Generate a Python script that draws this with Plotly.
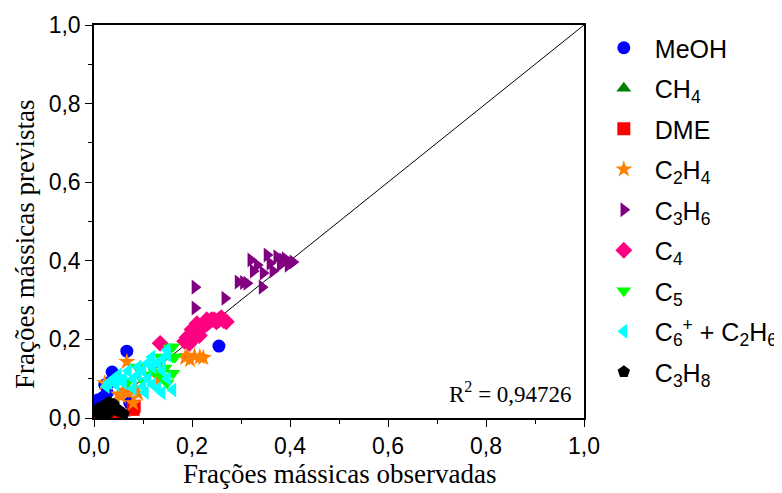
import plotly.graph_objects as go

tick_vals = [0.0, 0.2, 0.4, 0.6, 0.8, 1.0]
tick_text = ["0,0", "0,2", "0,4", "0,6", "0,8", "1,0"]

meoh_x = [0.255, 0.067, 0.037, 0.022, 0.027, 0.008, 0.002, 0.073, 0.012, 0.018, 0.03, 0.005]
meoh_y = [0.183, 0.170, 0.117, 0.084, 0.064, 0.046, 0.033, 0.038, 0.025, 0.052, 0.09, 0.015]

ch4_x = [0.01, 0.03, 0.05, 0.04, 0.02, 0.06]
ch4_y = [0.02, 0.025, 0.02, 0.03, 0.015, 0.012]

dme_x = [0.08, 0.082, 0.005, 0.01, 0.02, 0.045, 0.0, 0.04]
dme_y = [0.022, 0.03, 0.005, 0.012, 0.015, 0.008, 0.002, 0.004]

c2h4_x = [0.186, 0.196, 0.205, 0.216, 0.223, 0.19, 0.067, 0.131, 0.08, 0.022, 0.05, 0.06, 0.07, 0.08, 0.09, 0.055, 0.135, 0.085]
c2h4_y = [0.153, 0.148, 0.157, 0.155, 0.153, 0.158, 0.143, 0.104, 0.038, 0.089, 0.06, 0.07, 0.065, 0.07, 0.062, 0.055, 0.10, 0.075]

c3h6_x = [0.206, 0.206, 0.267, 0.294, 0.305, 0.312, 0.343, 0.32, 0.333, 0.353, 0.359, 0.373, 0.385, 0.396, 0.406, 0.365, 0.345, 0.325, 0.38, 0.39, 0.40]
c3h6_y = [0.333, 0.280, 0.305, 0.346, 0.345, 0.343, 0.333, 0.402, 0.389, 0.415, 0.394, 0.410, 0.402, 0.389, 0.397, 0.374, 0.369, 0.374, 0.39, 0.405, 0.395]

c4_x = [0.185, 0.19, 0.195, 0.2, 0.205, 0.21, 0.215, 0.2, 0.22, 0.225, 0.23, 0.235, 0.24, 0.245, 0.25, 0.255, 0.26, 0.265, 0.27, 0.23, 0.215, 0.21, 0.195, 0.135]
c4_y = [0.195, 0.205, 0.21, 0.2, 0.215, 0.22, 0.225, 0.225, 0.23, 0.235, 0.24, 0.245, 0.25, 0.25, 0.245, 0.25, 0.255, 0.248, 0.245, 0.25, 0.21, 0.24, 0.19, 0.19]

c5_x = [0.161, 0.161, 0.135, 0.145, 0.161, 0.124, 0.069, 0.088, 0.149, 0.165, 0.155, 0.139, 0.11, 0.1]
c5_y = [0.181, 0.155, 0.155, 0.127, 0.114, 0.117, 0.092, 0.130, 0.089, 0.155, 0.178, 0.104, 0.11, 0.095]

c6_x = [0.03, 0.04, 0.05, 0.06, 0.07, 0.08, 0.09, 0.1, 0.11, 0.12, 0.13, 0.14, 0.15, 0.1, 0.12, 0.13, 0.161, 0.139, 0.15, 0.11, 0.118, 0.06, 0.045, 0.09, 0.14, 0.149, 0.08, 0.105, 0.025]
c6_y = [0.09, 0.1, 0.11, 0.1, 0.12, 0.1, 0.11, 0.12, 0.1, 0.13, 0.14, 0.15, 0.16, 0.08, 0.085, 0.075, 0.071, 0.064, 0.1, 0.14, 0.155, 0.09, 0.085, 0.13, 0.12, 0.173, 0.075, 0.065, 0.08]

c3h8_x = [0.01, 0.015, 0.02, 0.025, 0.03, 0.035, 0.04, 0.045, 0.05, 0.055, 0.02, 0.03, 0.04, 0.01, 0.06, 0.025]
c3h8_y = [0.01, 0.02, 0.03, 0.035, 0.04, 0.03, 0.02, 0.025, 0.02, 0.015, 0.01, 0.015, 0.035, 0.025, 0.01, 0.005]

series = [
    ("MeOH", meoh_x, meoh_y, "circle", "#0000FF"),
    ("CH<sub>4</sub>", ch4_x, ch4_y, "triangle-up", "#008000"),
    ("DME", dme_x, dme_y, "square", "#FF0000"),
    ("C<sub>2</sub>H<sub>4</sub>", c2h4_x, c2h4_y, "star", "#FF8000"),
    ("C<sub>3</sub>H<sub>6</sub>", c3h6_x, c3h6_y, "triangle-right", "#800080"),
    ("C<sub>4</sub>", c4_x, c4_y, "diamond", "#FF0080"),
    ("C<sub>5</sub>", c5_x, c5_y, "triangle-down", "#00FF00"),
    ("C<sub>6</sub><sup>+</sup> + C<sub>2</sub>H<sub>6</sub>", c6_x, c6_y, "triangle-left", "#00FFFF"),
    ("C<sub>3</sub>H<sub>8</sub>", c3h8_x, c3h8_y, "pentagon", "#000000"),
]

fig = go.Figure()
fig.add_trace(go.Scatter(x=[0, 1], y=[0, 1], mode="lines", line=dict(color="black", width=1),
                         showlegend=False, hoverinfo="skip"))
for i, (name, xs, ys, sym, col) in enumerate(series):
    fig.add_trace(go.Scatter(x=xs, y=ys, mode="markers", name=name, legendgroup="g%d" % i,
                             marker=dict(symbol=sym, color=col, size=13, line=dict(width=0))))

axis_common = dict(range=[0, 1], tickvals=tick_vals, ticktext=tick_text, ticks="outside",
                   ticklen=7, tickwidth=1, tickcolor="black", showline=True, linecolor="black",
                   linewidth=1.5, mirror=True, showgrid=False, zeroline=False, automargin=False,
                   tickfont=dict(family="Liberation Sans, Arial", size=23, color="black"),
                   minor=dict(dtick=0.1, ticks="outside", ticklen=4, tickcolor="black", showgrid=False))

fig.update_xaxes(**axis_common)
fig.update_yaxes(**axis_common)

title_font = dict(family="Liberation Serif, Times New Roman", size=27, color="black")
fig.add_annotation(x=0.5, y=-(474 - 418) / 393, xref="paper", yref="paper", showarrow=False,
                   xanchor="center", yanchor="middle",
                   text="Frações mássicas observadas", font=title_font)
fig.add_annotation(x=-(94 - 25) / 490, y=(418 - 245) / 393, xref="paper", yref="paper",
                   showarrow=False, textangle=-90, xanchor="center", yanchor="middle",
                   text="Frações mássicas previstas", font=title_font)

fig.add_annotation(x=0.98, y=0.064, xref="x", yref="y", xanchor="right", yanchor="middle",
                   text="R<sup>2</sup> = 0,94726", showarrow=False,
                   font=dict(family="Liberation Serif, Times New Roman", size=23, color="black"))

# page body has an 8px margin, so the figure is offset by (8, 8)
fig.update_layout(width=774, height=485,
                  margin=dict(l=86, r=198, t=17, b=75, autoexpand=False),
                  plot_bgcolor="white", paper_bgcolor="white",
                  legend=dict(x=1.018, y=1.0, xanchor="left", yanchor="top", itemwidth=52,
                              traceorder="grouped", tracegroupgap=5,
                              font=dict(family="Liberation Sans, Arial", size=25, color="black"),
                              bgcolor="rgba(0,0,0,0)"))

fig.write_html("out.html")
